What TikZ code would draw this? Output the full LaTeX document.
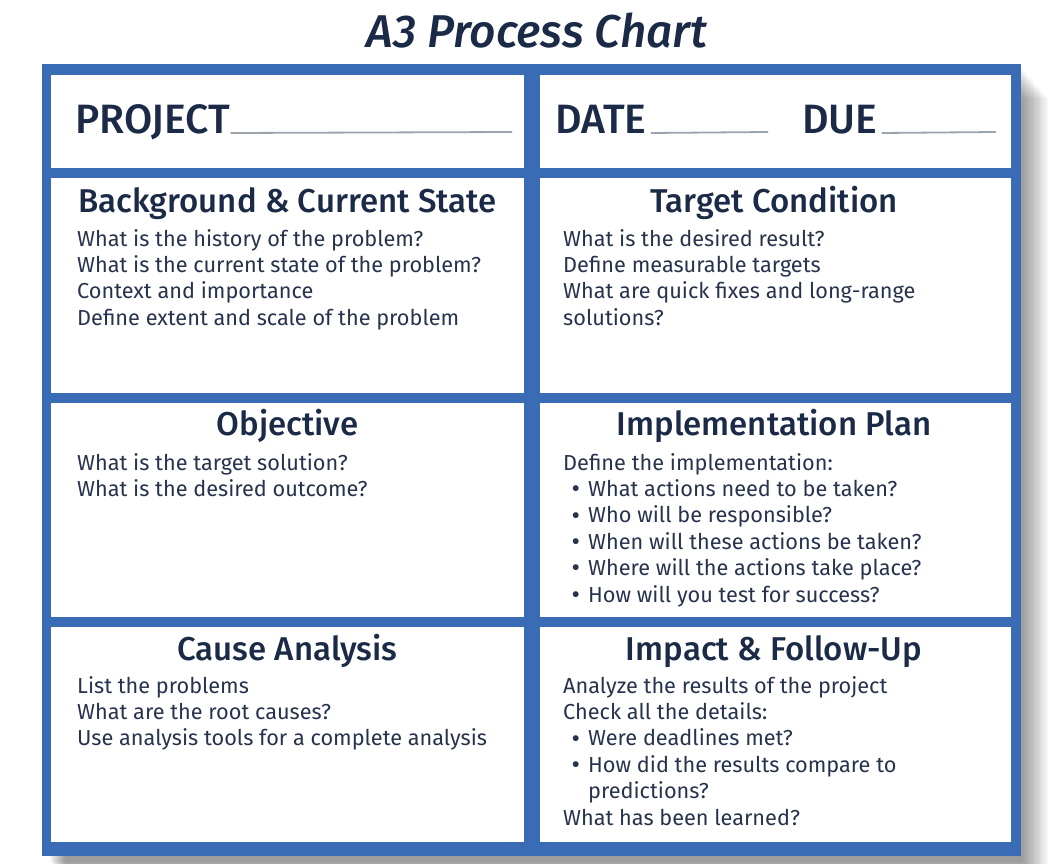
\documentclass[tikz,border=0pt]{standalone}
\usepackage{fontspec}
\setmainfont{Fira Sans}
\newfontfamily\medfont{Fira Sans Medium}
\definecolor{frameblue}{HTML}{3A6BB5}
\definecolor{ink}{HTML}{1B2A47}
\definecolor{bodyink}{HTML}{27334D}
\definecolor{rulegray}{HTML}{9DA3AA}
\newcommand\bul{\makebox[25pt][l]{\hspace{8.5pt}\raisebox{-1.2pt}{\fontsize{26}{26}\selectfont\textbullet}}}
\newcommand\cont{\hspace*{25pt}}
\begin{document}
\begin{tikzpicture}[x=1pt,y=-1pt,
  cell/.style={fill=white},
  shadowlayer/.style={fill=black,fill opacity=0.028},
  body/.style={anchor=base west,inner sep=0,text=bodyink,font=\fontsize{21.7}{26.4}\selectfont},
  head/.style={anchor=base,inner sep=0,text=ink,font=\medfont\fontsize{33}{38}\selectfont},
  hdr/.style={anchor=base west,inner sep=0,text=ink,font=\medfont\fontsize{41}{44}\selectfont},
  uline/.style={draw=rulegray,line width=1.8pt}]
\useasboundingbox (0,0) rectangle (1054,864);
\fill[white] (0,0) rectangle (1054,864);
% title
\node[anchor=base,inner sep=0,text=ink,font=\medfont\itshape\fontsize{46}{50}\selectfont] (title) at (537,48) {A3 Process Chart};
% soft shadow
\foreach \k in {1,...,16}
  \fill[shadowlayer] ({66-\k},{100-2*\k}) rectangle ({1050-1.75*\k},{878-\k});
% frame
\fill[frameblue] (42,64) rectangle (1020.5,855.5);
% cells
\fill[cell] (51,75) rectangle (524,167.5);
\fill[cell] (540,75) rectangle (1011,167.5);
\fill[cell] (51,178) rectangle (524,393);
\fill[cell] (540,178) rectangle (1011,393);
\fill[cell] (51,403) rectangle (524,617);
\fill[cell] (540,403) rectangle (1011,617);
\fill[cell] (51,627) rectangle (524,842);
\fill[cell] (540,627) rectangle (1011,842);
% header row
\node[hdr] (project) at (75,133) {PROJECT};
\coordinate (projEnd) at (512,132);
\draw[uline] (project.base east) -- (projEnd);
\node[hdr] (date) at (555,133) {DATE};
\coordinate (dateEnd) at (768,132);
\draw[uline] ([xshift=4pt]date.base east) -- (dateEnd);
\node[hdr] (due) at (802,133) {DUE};
\coordinate (dueEnd) at (996,132);
\draw[uline] ([xshift=4pt]due.base east) -- (dueEnd);
% headings
\node[head] (bgH) at (287.5,212) {Background \& Current State};
\node[head] (tcH) at (774,212) {Target Condition};
\node[head] (obH) at (287.5,435) {Objective};
\node[head] (ipH) at (774,435) {Implementation Plan};
\node[head] (caH) at (287.5,660) {Cause Analysis};
\node[head] (ifH) at (774,660) {Impact \& Follow-Up};
% bodies
\node[body] (bgB) at (77,246) {\parbox[t]{440pt}{\raggedright
What is the history of the problem?\\
What is the current state of the problem?\\
Context and importance\\
Define extent and scale of the problem}};
\node[body] (tcB) at (563,246) {\parbox[t]{440pt}{\raggedright
What is the desired result?\\
Define measurable targets\\
What are quick fixes and long-range\\
solutions?}};
\node[body] (obB) at (77,470) {\parbox[t]{440pt}{\raggedright
What is the target solution?\\
What is the desired outcome?}};
\node[body] (ipB) at (563,470) {\parbox[t]{440pt}{\raggedright
Define the implementation:\\
\bul What actions need to be taken?\\
\bul Who will be responsible?\\
\bul When will these actions be taken?\\
\bul Where will the actions take place?\\
\bul How will you test for success?}};
\node[body] (caB) at (77,693) {\parbox[t]{440pt}{\raggedright
List the problems\\
What are the root causes?\\
Use analysis tools for a complete analysis}};
\node[body] (ifB) at (563,693) {\parbox[t]{440pt}{\raggedright
Analyze the results of the project\\
Check all the details:\\
\bul Were deadlines met?\\
\bul How did the results compare to\\
\cont predictions?\\
What has been learned?}};
\end{tikzpicture}
\end{document}
